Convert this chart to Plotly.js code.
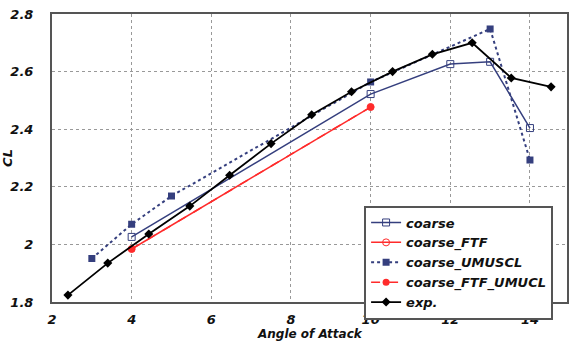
<!DOCTYPE html>
<html><head><meta charset="utf-8">
<script src="https://cdn.plot.ly/plotly-3.0.1.min.js"></script>
<style>html,body{margin:0;padding:0;background:#fff}#c{width:569px;height:341px}</style>
</head><body><div id="c"></div>
<script>
var coarseX = [4, 10, 12, 13, 14];
var coarseY = [2.026, 2.522, 2.626, 2.634, 2.404];
var ftfX = [4, 10];
var ftfY = [1.984, 2.477];
var umusclX = [3, 4, 5, 10, 13, 14];
var umusclY = [1.951, 2.07, 2.168, 2.564, 2.748, 2.293];
var ftfUmuclX = [4, 10];
var ftfUmuclY = [1.984, 2.477];
var expX = [2.4, 3.4, 4.43, 5.46, 6.46, 7.5, 8.52, 9.52, 10.55, 11.55, 12.55, 13.53, 14.53];
var expY = [1.824, 1.935, 2.036, 2.133, 2.24, 2.35, 2.45, 2.53, 2.60, 2.66, 2.70, 2.578, 2.547];
var xTicks = [2, 4, 6, 8, 10, 12, 14];
var yTicks = [1.8, 2, 2.2, 2.4, 2.6, 2.8];
var xTitle = 'Angle of Attack';

var navy = '#353f7e', red = '#ff2b2b';
var fnt = {family: 'DejaVu Sans, sans-serif', size: 13, color: '#111', weight: 'bold', style: 'italic'};
var tfnt = {family: 'DejaVu Sans, sans-serif', size: 12, color: '#111', weight: 'bold', style: 'italic'};
var traces = [
  {x: coarseX, y: coarseY, name: 'coarse', mode: 'lines+markers',
   line: {color: navy, width: 1.5}, marker: {symbol: 'square-open', size: 7, color: navy, line: {width: 1}}},
  {x: ftfX, y: ftfY, name: 'coarse_FTF', mode: 'lines+markers',
   line: {color: red, width: 1.5}, marker: {symbol: 'circle-open', size: 7, color: red, line: {width: 1}}},
  {x: umusclX, y: umusclY, name: 'coarse_UMUSCL', mode: 'lines+markers',
   line: {color: navy, width: 2, dash: 'dot'}, marker: {symbol: 'square', size: 7, color: navy}},
  {x: ftfUmuclX, y: ftfUmuclY, name: 'coarse_FTF_UMUCL', mode: 'lines+markers',
   line: {color: red, width: 1.5, dash: 'dash'}, marker: {symbol: 'circle', size: 7, color: red}},
  {x: expX, y: expY, name: 'exp.', mode: 'lines+markers',
   line: {color: '#000', width: 1.8}, marker: {symbol: 'diamond', size: 7, color: '#000'}}
];
var layout = {
  width: 569, height: 341,
  margin: {l: 52, r: 2, t: 14, b: 39},
  paper_bgcolor: '#fff', plot_bgcolor: '#fff',
  showlegend: true,
  font: fnt,
  xaxis: {range: [2, 14.93], tickvals: xTicks, ticktext: xTicks.map(String),
    showgrid: true, gridcolor: '#999', griddash: 'dot', gridwidth: 1,
    zeroline: false, showline: true, linecolor: '#555', linewidth: 2, mirror: true,
    ticks: '', ticklabelstandoff: 4, tickfont: fnt},
  yaxis: {range: [1.8, 2.8], tickvals: yTicks, ticktext: yTicks.map(String),
    showgrid: true, gridcolor: '#999', griddash: 'dot', gridwidth: 1,
    zeroline: false, showline: true, linecolor: '#555', linewidth: 2, mirror: true,
    ticks: '', ticklabelstandoff: 14, tickfont: fnt,
    title: {text: 'CL', font: fnt, standoff: 0}},
  annotations: [{text: xTitle, xref: 'paper', yref: 'paper', x: 0.5, y: 0,
    xanchor: 'center', yanchor: 'bottom', yshift: -40, showarrow: false, font: tfnt, borderpad: 0}],
  legend: {x: 0.606, y: 0.335, xanchor: 'left', yanchor: 'top',
    bgcolor: '#fff', bordercolor: '#555', borderwidth: 2,
    font: fnt, tracegroupgap: 0, itemwidth: 30}
};
Plotly.newPlot('c', traces, layout, {displayModeBar: false, staticPlot: true});
</script></body></html>
